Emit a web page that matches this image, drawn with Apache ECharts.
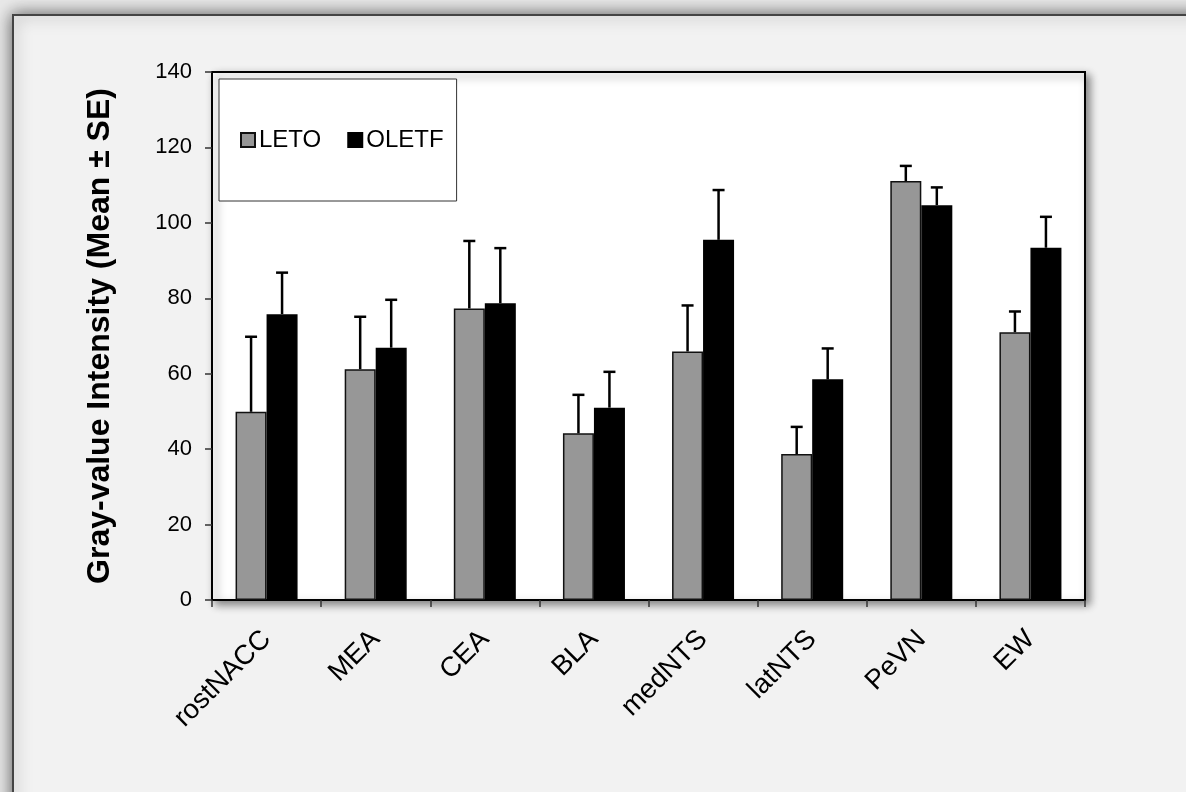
<!DOCTYPE html>
<html>
<head>
<meta charset="utf-8">
<script src="https://cdn.jsdelivr.net/npm/echarts@6/dist/echarts.min.js"></script>
<style>
html,body{margin:0;padding:0;background:#e9e9e9;}
#chart{width:1186px;height:792px;}
</style>
</head>
<body>
<div id="chart"></div>
<script>
const categories = ['rostNACC','MEA','CEA','BLA','medNTS','latNTS','PeVN','EW'];
const letoMean  = [49.9, 61.2, 77.3, 44.2, 65.9, 38.7, 111.1, 71.0];
const letoSE    = [19.9, 13.9, 17.9, 10.2, 12.2, 7.2, 4.0, 5.5];
const oletfMean = [75.8, 66.9, 78.7, 51.0, 95.5, 58.5, 104.7, 93.4];
const oletfSE   = [11.0, 12.7, 14.6, 9.5, 13.2, 8.2, 4.7, 8.2];
const yTicks = {min: 0, max: 140, interval: 20};

const FONT = 'Liberation Sans, Arial, sans-serif';
const BAR_W = 31;

function errData(mean, se) {
  return mean.map((m, i) => [i, m, se[i]]);
}
function errRenderer(offset) {
  return function (params, api) {
    const i = api.value(0);
    const base = api.coord([i, api.value(1)]);
    const top = api.coord([i, api.value(1) + api.value(2)]);
    const x = base[0] + offset;
    const cap = 6;
    return {
      type: 'group',
      children: [
        {type: 'line', shape: {x1: x, y1: base[1], x2: x, y2: top[1]},
         style: {stroke: '#000', lineWidth: 2.5}},
        {type: 'line', shape: {x1: x - cap, y1: top[1], x2: x + cap, y2: top[1]},
         style: {stroke: '#000', lineWidth: 2.5}}
      ]
    };
  };
}

const chart = echarts.init(document.getElementById('chart'), null, {renderer: 'canvas'});
chart.setOption({
  backgroundColor: '#e9e9e9',
  animation: false,
  graphic: [{
    type: 'rect', z: -10, silent: true,
    shape: {x: 13, y: 15, width: 1250, height: 850},
    style: {fill: '#f2f2f2', stroke: '#444', lineWidth: 2,
            shadowBlur: 16, shadowColor: 'rgba(0,0,0,0.6)'}
  }],
  grid: {
    left: 212, top: 72, right: 101, bottom: 192,
    show: true, backgroundColor: '#ffffff', borderColor: '#000', borderWidth: 2,
    shadowBlur: 8, shadowColor: 'rgba(0,0,0,0.45)', shadowOffsetX: 4, shadowOffsetY: 4
  },
  legend: {
    left: 219, top: 79,
    data: ['LETO', 'OLETF'],
    icon: 'rect', itemWidth: 14, itemHeight: 14, itemGap: 26,
    padding: [49, 13, 49, 21],
    backgroundColor: '#ffffff', borderColor: '#333', borderWidth: 1,
    textStyle: {fontFamily: FONT, fontSize: 24, color: '#000', padding: [0, 0, 0, -1]}
  },
  xAxis: {
    type: 'category', data: categories,
    axisLine: {lineStyle: {color: '#000', width: 2}},
    axisTick: {show: true, length: 7, lineStyle: {color: '#333', width: 1.5}},
    axisLabel: {rotate: 45, margin: 35, fontFamily: FONT, fontSize: 27.5, color: '#000', interval: 0}
  },
  yAxis: {
    type: 'value', min: yTicks.min, max: yTicks.max, interval: yTicks.interval,
    name: 'Gray-value Intensity (Mean ± SE)',
    nameLocation: 'middle', nameGap: 96, nameRotate: 90,
    nameTextStyle: {fontFamily: FONT, fontSize: 32, fontWeight: 'bold', color: '#000'},
    splitLine: {show: false},
    axisLine: {show: true, lineStyle: {color: '#000', width: 2}},
    axisTick: {show: true, length: 7, lineStyle: {color: '#333', width: 1.5}},
    axisLabel: {margin: 20, fontFamily: FONT, fontSize: 22, color: '#000'}
  },
  series: [
    {
      name: 'LETO', type: 'bar', data: letoMean, barWidth: BAR_W, barGap: '0%',
      itemStyle: {color: '#979797', borderColor: '#111', borderWidth: 1.5}
    },
    {
      name: 'OLETF', type: 'bar', data: oletfMean, barWidth: BAR_W, barGap: '0%',
      itemStyle: {color: '#000', borderColor: '#000', borderWidth: 1.5}
    },
    {
      name: 'LETO err', type: 'custom', data: errData(letoMean, letoSE),
      renderItem: errRenderer(-BAR_W / 2), encode: {x: 0, y: 1}, z: 3, silent: true
    },
    {
      name: 'OLETF err', type: 'custom', data: errData(oletfMean, oletfSE),
      renderItem: errRenderer(BAR_W / 2), encode: {x: 0, y: 1}, z: 3, silent: true
    }
  ]
});
</script>
</body>
</html>
